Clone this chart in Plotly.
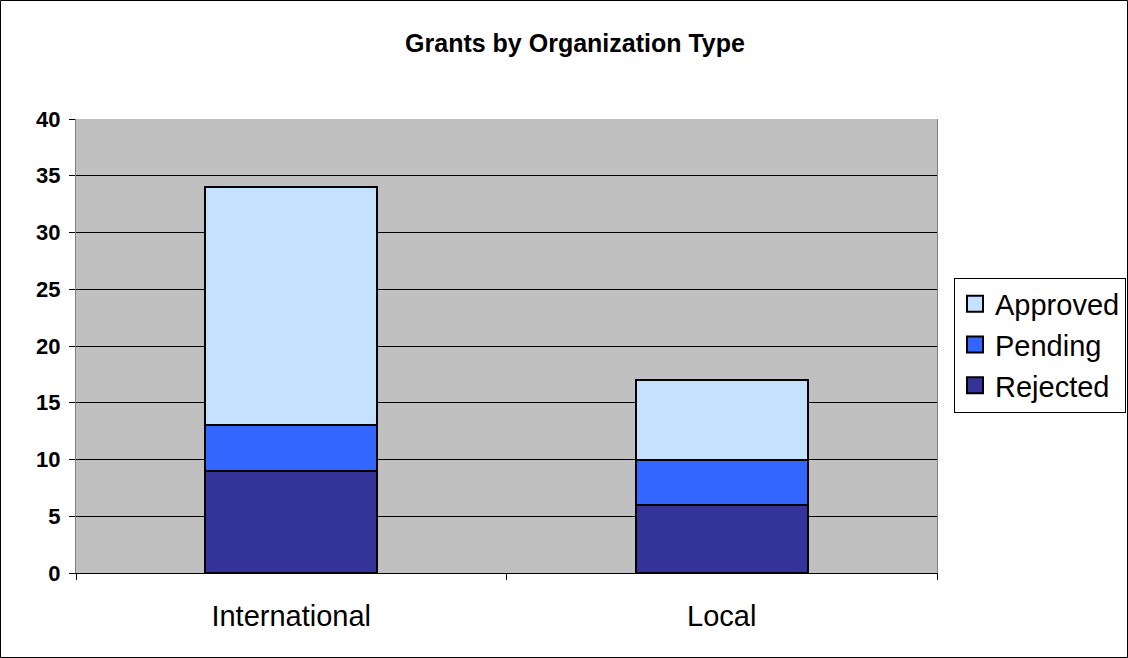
import plotly.graph_objects as go

categories = ["International", "Local"]
rejected = [9, 6]
pending = [4, 4]
approved = [21, 7]
y_ticks = [0, 5, 10, 15, 20, 25, 30, 35, 40]

FONT = "Arial, Liberation Sans, sans-serif"

series = [("Rejected", rejected, "#333399"),
          ("Pending", pending, "#3366FF"),
          ("Approved", approved, "#C6E0FF")]

fig = go.Figure()
for name, vals, col in series:
    fig.add_trace(go.Bar(x=categories, y=vals, name=name, showlegend=False,
                         legendgroup=name,
                         marker=dict(color=col, line=dict(color="black", width=2))))
# legend entries with larger square swatches
for name, vals, col in series:
    fig.add_trace(go.Scatter(x=[None], y=[None], mode="markers", name=name,
                             legendgroup=name,
                             marker=dict(symbol="square", size=18, color=col,
                                         line=dict(color="black", width=2))))

fig.update_layout(
    width=1128, height=658,
    barmode="stack", bargap=0.6,
    paper_bgcolor="white", plot_bgcolor="#C0C0C0",
    margin=dict(l=76, r=191, t=119, b=85),
    font=dict(family=FONT, color="black"),
    title=dict(text="Grants by Organization Type", x=575/1128, xref="container",
               y=1-43/658, yref="container", xanchor="center", yanchor="middle",
               font=dict(family=FONT, size=25, color="black", weight="bold")),
    legend=dict(x=954/1128, xref="container", y=1-345/658, yref="container",
                xanchor="left", yanchor="middle", traceorder="reversed",
                bgcolor="white", bordercolor="black", borderwidth=1,
                font=dict(family=FONT, size=29, color="black"),
                itemsizing="trace", itemwidth=30, tracegroupgap=0),
    showlegend=True,
)
fig.update_xaxes(type="category", ticks="outside", tickson="boundaries", ticklen=6,
                 tickcolor="black", showline=True, linecolor="black", linewidth=1,
                 tickfont=dict(family=FONT, size=29, color="black"),
                 ticklabelstandoff=17, showgrid=False)
fig.update_yaxes(range=[0, 40], tickvals=y_ticks, ticks="outside", ticklen=6,
                 tickcolor="black", showline=True, linecolor="#808080", linewidth=1,
                 mirror=True, gridcolor="black", gridwidth=1, zeroline=False,
                 tickfont=dict(family=FONT, size=22, color="black", weight="bold"),
                 ticklabelstandoff=4)

fig.add_shape(type="rect", xref="paper", yref="paper",
              x0=-75.5/861, x1=(1127.5-76)/861, y0=(573-657.5)/454, y1=(573-0.5)/454,
              line=dict(color="black", width=1), fillcolor="rgba(0,0,0,0)", layer="above")

fig.write_html("out.html", config={"displayModeBar": False},
               post_script="document.body.style.margin='0';")
